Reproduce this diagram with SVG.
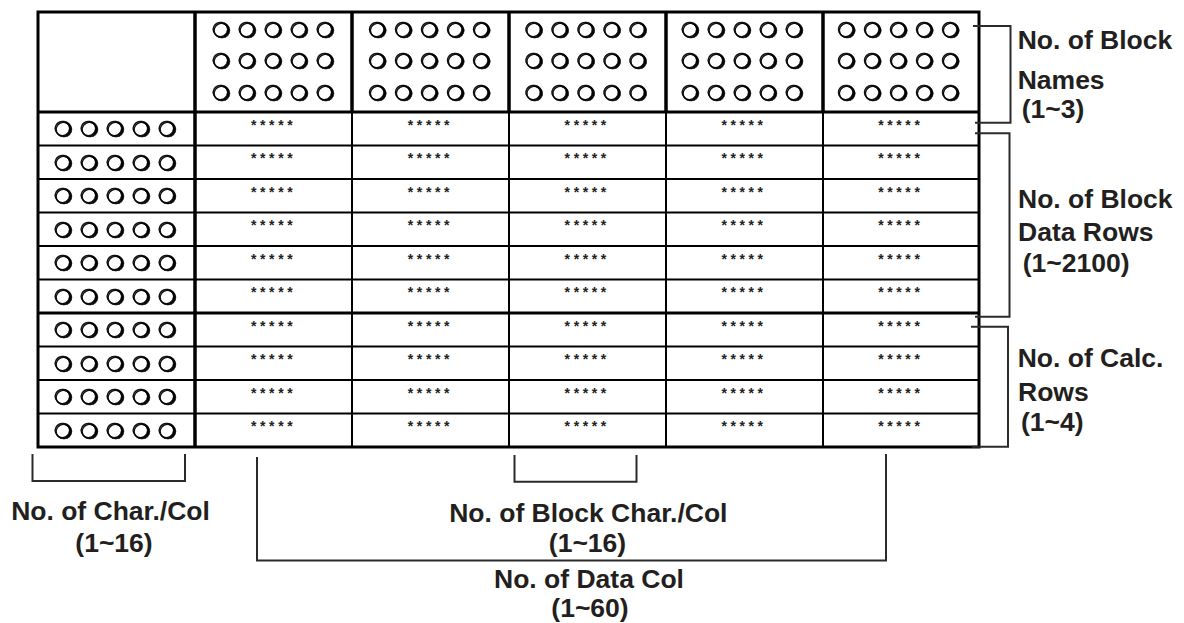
<svg xmlns="http://www.w3.org/2000/svg" width="1184" height="623" viewBox="0 0 1184 623">
<defs>
  <filter id="shadow" x="-20%" y="-20%" width="140%" height="140%">
    <feOffset in="SourceAlpha" dx="1.2" dy="1" result="off"/>
    <feMerge><feMergeNode in="off"/><feMergeNode in="SourceGraphic"/></feMerge>
  </filter>
</defs>
<style>
.circ{font-family:"DejaVu Sans",sans-serif;font-size:20.5px;fill:#000;stroke:#000;stroke-width:0.5;text-anchor:middle}
.star{font-family:"Liberation Sans",Arial,sans-serif;font-size:14px;font-weight:bold;fill:#222;letter-spacing:3.6px}
.lbl{font-family:"Liberation Sans",Arial,sans-serif;font-weight:bold;font-size:26.5px;fill:#231f20}
.mid{text-anchor:middle}
.br{fill:none;stroke:#2b2b2b;stroke-width:2}
.thick{stroke:#000;stroke-width:3.5;fill:none}
.med{stroke:#000;stroke-width:3;fill:none}
.thin{stroke:#000;stroke-width:2;fill:none}
</style>
<rect width="1184" height="623" fill="#fff"/>
<g id="table-grid">
  <rect class="med" x="38" y="12" width="941" height="435"/>
  <line class="med" x1="38" y1="112" x2="979" y2="112"/>
  <line class="med" x1="38" y1="313" x2="979" y2="313"/>
  <g class="thin">
    <line x1="38" y1="145.5" x2="979" y2="145.5"/>
    <line x1="38" y1="179" x2="979" y2="179"/>
    <line x1="38" y1="212.5" x2="979" y2="212.5"/>
    <line x1="38" y1="246" x2="979" y2="246"/>
    <line x1="38" y1="279.5" x2="979" y2="279.5"/>
    <line x1="38" y1="346.5" x2="979" y2="346.5"/>
    <line x1="38" y1="380" x2="979" y2="380"/>
    <line x1="38" y1="413.5" x2="979" y2="413.5"/>
    <line x1="352" y1="112" x2="352" y2="447"/>
    <line x1="509" y1="112" x2="509" y2="447"/>
    <line x1="666" y1="112" x2="666" y2="447"/>
    <line x1="823" y1="112" x2="823" y2="447"/>
  </g>
  <g class="thick">
    <line x1="195" y1="12" x2="195" y2="447"/>
    <line x1="352" y1="12" x2="352" y2="112"/>
    <line x1="509" y1="12" x2="509" y2="112"/>
    <line x1="666" y1="12" x2="666" y2="112"/>
    <line x1="823" y1="12" x2="823" y2="112"/>
  </g>
</g>
<g id="block-names" filter="url(#shadow)">
  <text class="circ" x="221 247 273 299 325" y="36.7">❍❍❍❍❍</text>
  <text class="circ" x="221 247 273 299 325" y="68.4">❍❍❍❍❍</text>
  <text class="circ" x="221 247 273 299 325" y="100.1">❍❍❍❍❍</text>
  <text class="circ" x="377.3 403.3 429.3 455.3 481.3" y="36.7">❍❍❍❍❍</text>
  <text class="circ" x="377.3 403.3 429.3 455.3 481.3" y="68.4">❍❍❍❍❍</text>
  <text class="circ" x="377.3 403.3 429.3 455.3 481.3" y="100.1">❍❍❍❍❍</text>
  <text class="circ" x="533.6 559.6 585.6 611.6 637.6" y="36.7">❍❍❍❍❍</text>
  <text class="circ" x="533.6 559.6 585.6 611.6 637.6" y="68.4">❍❍❍❍❍</text>
  <text class="circ" x="533.6 559.6 585.6 611.6 637.6" y="100.1">❍❍❍❍❍</text>
  <text class="circ" x="689.9 715.9 741.9 767.9 793.9" y="36.7">❍❍❍❍❍</text>
  <text class="circ" x="689.9 715.9 741.9 767.9 793.9" y="68.4">❍❍❍❍❍</text>
  <text class="circ" x="689.9 715.9 741.9 767.9 793.9" y="100.1">❍❍❍❍❍</text>
  <text class="circ" x="846.2 872.2 898.2 924.2 950.2" y="36.7">❍❍❍❍❍</text>
  <text class="circ" x="846.2 872.2 898.2 924.2 950.2" y="68.4">❍❍❍❍❍</text>
  <text class="circ" x="846.2 872.2 898.2 924.2 950.2" y="100.1">❍❍❍❍❍</text>
</g>
<g id="row-names" filter="url(#shadow)">
  <text class="circ" x="63 89 115 141 167" y="136.15">❍❍❍❍❍</text>
  <text class="circ" x="63 89 115 141 167" y="169.65">❍❍❍❍❍</text>
  <text class="circ" x="63 89 115 141 167" y="203.15">❍❍❍❍❍</text>
  <text class="circ" x="63 89 115 141 167" y="236.65">❍❍❍❍❍</text>
  <text class="circ" x="63 89 115 141 167" y="270.15">❍❍❍❍❍</text>
  <text class="circ" x="63 89 115 141 167" y="303.65">❍❍❍❍❍</text>
  <text class="circ" x="63 89 115 141 167" y="337.15">❍❍❍❍❍</text>
  <text class="circ" x="63 89 115 141 167" y="370.65">❍❍❍❍❍</text>
  <text class="circ" x="63 89 115 141 167" y="404.15">❍❍❍❍❍</text>
  <text class="circ" x="63 89 115 141 167" y="437.65">❍❍❍❍❍</text>
</g>
<g id="data-cells" class="star">
  <text x="251" y="129.5">*****</text><text x="407.8" y="129.5">*****</text><text x="564.6" y="129.5">*****</text><text x="721.4" y="129.5">*****</text><text x="878.2" y="129.5">*****</text>
  <text x="251" y="163">*****</text><text x="407.8" y="163">*****</text><text x="564.6" y="163">*****</text><text x="721.4" y="163">*****</text><text x="878.2" y="163">*****</text>
  <text x="251" y="196.5">*****</text><text x="407.8" y="196.5">*****</text><text x="564.6" y="196.5">*****</text><text x="721.4" y="196.5">*****</text><text x="878.2" y="196.5">*****</text>
  <text x="251" y="230">*****</text><text x="407.8" y="230">*****</text><text x="564.6" y="230">*****</text><text x="721.4" y="230">*****</text><text x="878.2" y="230">*****</text>
  <text x="251" y="263.5">*****</text><text x="407.8" y="263.5">*****</text><text x="564.6" y="263.5">*****</text><text x="721.4" y="263.5">*****</text><text x="878.2" y="263.5">*****</text>
  <text x="251" y="297">*****</text><text x="407.8" y="297">*****</text><text x="564.6" y="297">*****</text><text x="721.4" y="297">*****</text><text x="878.2" y="297">*****</text>
  <text x="251" y="330.5">*****</text><text x="407.8" y="330.5">*****</text><text x="564.6" y="330.5">*****</text><text x="721.4" y="330.5">*****</text><text x="878.2" y="330.5">*****</text>
  <text x="251" y="364">*****</text><text x="407.8" y="364">*****</text><text x="564.6" y="364">*****</text><text x="721.4" y="364">*****</text><text x="878.2" y="364">*****</text>
  <text x="251" y="397.5">*****</text><text x="407.8" y="397.5">*****</text><text x="564.6" y="397.5">*****</text><text x="721.4" y="397.5">*****</text><text x="878.2" y="397.5">*****</text>
  <text x="251" y="431">*****</text><text x="407.8" y="431">*****</text><text x="564.6" y="431">*****</text><text x="721.4" y="431">*****</text><text x="878.2" y="431">*****</text>
</g>
<g id="connectors">
  <path class="br" d="M973,26 H1010.5 V122.7 H975"/>
  <path class="br" d="M975,133.3 H1009.5 V316.7 H975"/>
  <path class="br" d="M971,326.7 H1008 V446.7 H972"/>
  <path class="br" d="M32.5,454 V481 H185 V454"/>
  <path class="br" d="M514.5,455 V481.7 H636.5 V455"/>
  <path class="br" d="M257,457 V560.5 H886 V454"/>
</g>
<g id="labels" class="lbl">
  <text x="1017.7" y="49.3">No. of Block</text>
  <text x="1017.7" y="89.3">Names</text>
  <text x="1021.7" y="117.5">(1~3)</text>
  <text x="1018" y="208.3">No. of Block</text>
  <text x="1018" y="241">Data Rows</text>
  <text x="1022.7" y="271.5">(1~2100)</text>
  <text x="1017.7" y="367.3">No. of Calc.</text>
  <text x="1018" y="401">Rows</text>
  <text x="1021" y="431">(1~4)</text>
  <text class="mid" x="110.5" y="520">No. of Char./Col</text>
  <text class="mid" x="114" y="551.5">(1~16)</text>
  <text class="mid" x="588.3" y="521.7">No. of Block Char./Col</text>
  <text class="mid" x="587.5" y="551.5">(1~16)</text>
  <text class="mid" x="589" y="588.3">No. of Data Col</text>
  <text class="mid" x="590" y="616.5">(1~60)</text>
</g>
</svg>
